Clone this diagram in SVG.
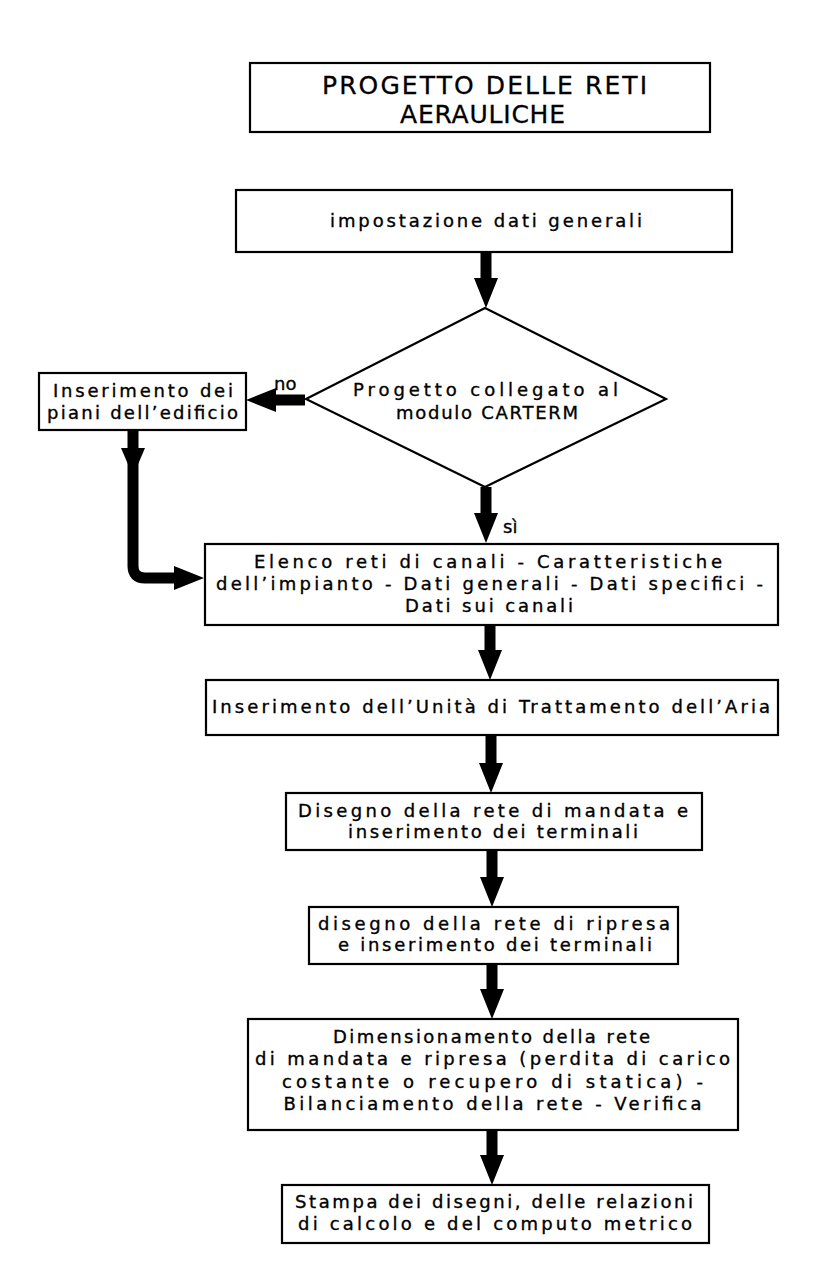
<svg xmlns="http://www.w3.org/2000/svg" width="836" height="1270" viewBox="0 0 836 1270">
<defs>
<style>
.box{fill:#fff;stroke:#000;stroke-width:2.2}
.t{font-family:"DejaVu Sans","Liberation Sans",sans-serif;font-size:18px;fill:#000;stroke:#000;stroke-width:0.35;text-anchor:middle}
.title{font-family:"DejaVu Sans","Liberation Sans",sans-serif;font-size:25px;fill:#000;stroke:#000;stroke-width:0.3;text-anchor:middle}
.lbl{font-family:"DejaVu Sans","Liberation Sans",sans-serif;font-size:18px;fill:#000;stroke:#000;stroke-width:0.35}
.c{fill:none;stroke:#000;stroke-width:11}
</style>
<marker id="ah" markerUnits="userSpaceOnUse" markerWidth="30" markerHeight="24" refX="0" refY="12" orient="auto">
<path d="M0,0 L30,12 L0,24 z" fill="#000"/>
</marker>
</defs>
<rect width="836" height="1270" fill="#fff"/>

<g id="title">
<rect class="box" x="250" y="63" width="460" height="69"/>
<text class="title" x="484.5" y="94" textLength="325" lengthAdjust="spacing">PROGETTO DELLE RETI</text>
<text class="title" x="482.5" y="123" textLength="165" lengthAdjust="spacing">AERAULICHE</text>
</g>

<g id="connectors">
<path class="c" d="M486,252 V278" marker-end="url(#ah)"/>
<path class="c" d="M305,400 H276" marker-end="url(#ah)"/>
<path class="c" d="M133,430 V566 Q133,578 145,578 H174" marker-end="url(#ah)"/>
<path d="M121,448 L145,448 L133,476 z" fill="#000"/>
<path class="c" d="M486,487 V513" marker-end="url(#ah)"/>
<path class="c" d="M490,625 V650" marker-end="url(#ah)"/>
<path class="c" d="M491,735 V763" marker-end="url(#ah)"/>
<path class="c" d="M492,850 V877" marker-end="url(#ah)"/>
<path class="c" d="M492,964 V989" marker-end="url(#ah)"/>
<path class="c" d="M492,1130 V1155" marker-end="url(#ah)"/>
<text class="lbl" x="274" y="390">no</text>
<text class="lbl" x="503" y="533">sì</text>
</g>

<g id="n-impostazione">
<rect class="box" x="236" y="190" width="496" height="62"/>
<text class="t" x="486" y="227" textLength="312" lengthAdjust="spacing">impostazione dati generali</text>
</g>

<g id="n-decisione">
<polygon class="box" points="485,308 666,399 485,487 306,399"/>
<text class="t" x="485.5" y="396" textLength="265" lengthAdjust="spacing">Progetto collegato al</text>
<text class="t" x="487" y="419" textLength="182" lengthAdjust="spacing">modulo CARTERM</text>
</g>

<g id="n-piani">
<rect class="box" x="39" y="373" width="207" height="57"/>
<text class="t" x="143" y="397" textLength="180" lengthAdjust="spacing">Inserimento dei</text>
<text class="t" x="142.5" y="419" textLength="191" lengthAdjust="spacing">piani dell’edificio</text>
</g>

<g id="n-elenco">
<rect class="box" x="205" y="544" width="573" height="81"/>
<text class="t" x="488" y="568" textLength="468" lengthAdjust="spacing">Elenco reti di canali - Caratteristiche</text>
<text class="t" x="489.5" y="590" textLength="547" lengthAdjust="spacing">dell’impianto - Dati generali - Dati specifici -</text>
<text class="t" x="489" y="612" textLength="168" lengthAdjust="spacing">Dati sui canali</text>
</g>

<g id="n-uta">
<rect class="box" x="206" y="680" width="572" height="55"/>
<text class="t" x="491" y="713" textLength="558" lengthAdjust="spacing">Inserimento dell’Unità di Trattamento dell’Aria</text>
</g>

<g id="n-mandata">
<rect class="box" x="286" y="793" width="416" height="57"/>
<text class="t" x="493" y="817" textLength="390" lengthAdjust="spacing">Disegno della rete di mandata e</text>
<text class="t" x="493" y="838" textLength="290" lengthAdjust="spacing">inserimento dei terminali</text>
</g>

<g id="n-ripresa">
<rect class="box" x="309" y="907" width="369" height="57"/>
<text class="t" x="494" y="930" textLength="352" lengthAdjust="spacing">disegno della rete di ripresa</text>
<text class="t" x="495" y="951" textLength="314" lengthAdjust="spacing">e inserimento dei terminali</text>
</g>

<g id="n-dimensionamento">
<rect class="box" x="248" y="1019" width="490" height="111"/>
<text class="t" x="491.5" y="1043" textLength="317" lengthAdjust="spacing">Dimensionamento della rete</text>
<text class="t" x="492.5" y="1065" textLength="475" lengthAdjust="spacing">di mandata e ripresa (perdita di carico</text>
<text class="t" x="492.5" y="1088" textLength="421" lengthAdjust="spacing">costante o recupero di statica) -</text>
<text class="t" x="492.5" y="1110" textLength="418" lengthAdjust="spacing">Bilanciamento della rete - Verifica</text>
</g>

<g id="n-stampa">
<rect class="box" x="282" y="1185" width="427" height="58"/>
<text class="t" x="494" y="1208" textLength="398" lengthAdjust="spacing">Stampa dei disegni, delle relazioni</text>
<text class="t" x="495" y="1230" textLength="394" lengthAdjust="spacing">di calcolo e del computo metrico</text>
</g>
</svg>
